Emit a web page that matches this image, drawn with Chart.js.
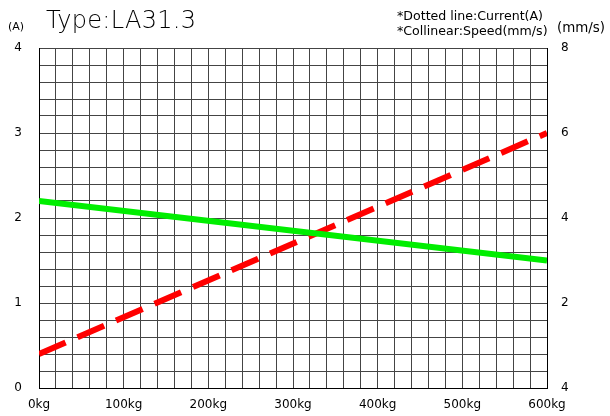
<!DOCTYPE html>
<html>
<head>
<meta charset="utf-8">
<script src="https://cdn.jsdelivr.net/npm/chart.js@4/dist/chart.umd.min.js"></script>
<style>
  html, body { margin: 0; padding: 0; background: #fff; }
  #wrap { position: relative; width: 610px; height: 416px; font-family: 'DejaVu Sans', sans-serif; color: #000; }
  #grafico { position: absolute; left: 0; top: 0; }
  .txt { position: absolute; white-space: nowrap; line-height: 1; }
</style>
</head>
<body>
<div id="wrap">
  <canvas id="grafico" width="610" height="416"></canvas>
  <div class="txt" style="left:46px; top:8px; font-size:24px; font-weight:200; letter-spacing:0.3px;">Type:LA31.3</div>
  <div class="txt" style="left:8px; top:21px; font-size:11px;">(A)</div>
  <div class="txt" style="left:397px; top:10px; font-size:12.6px;">*Dotted line:Current(A)</div>
  <div class="txt" style="left:397px; top:25px; font-size:12.6px;">*Collinear:Speed(mm/s)</div>
  <div class="txt" style="left:557px; top:21px; font-size:13.4px;">(mm/s)</div>
</div>
<script>
// Carga (kg) nos pontos medidos
const cargas = [0, 600];
// Corrente (A) — linha tracejada vermelha, eixo esquerdo
const corrente = [0.4, 3.0];
// Velocidade (mm/s) — linha contínua verde, eixo direito
const velocidade = [4.4, 3.0];
// Rótulos dos eixos, como aparecem no desenho
const rotulosEsquerda = ['0', '1', '2', '3', '4'];
const rotulosDireita = ['4', '2', '4', '6', '8'];

const corGrade = '#444';

new Chart(document.getElementById('grafico'), {
  type: 'line',
  data: {
    datasets: [
      {
        data: cargas.map((c, i) => ({ x: c, y: velocidade[i] })),
        yAxisID: 'y1',
        borderColor: '#00ee00',
        borderWidth: 6,
        pointRadius: 0,
      },
      {
        data: cargas.map((c, i) => ({ x: c, y: corrente[i] })),
        yAxisID: 'y',
        borderColor: '#ff0000',
        borderWidth: 6,
        borderDash: [29, 13],
        borderCapStyle: 'butt',
        pointRadius: 0,
      }
    ]
  },
  options: {
    responsive: false,
    animation: false,
    layout: { padding: { top: 48, left: 0, right: 0, bottom: 0 } },
    plugins: { legend: { display: false }, tooltip: { enabled: false } },
    scales: {
      x: {
        type: 'linear', min: 0, max: 600,
        afterFit: s => { s.height = 28; },
        border: { color: '#000', width: 1 },
        grid: { color: corGrade, lineWidth: 1, drawTicks: false },
        ticks: {
          stepSize: 20, autoSkip: false, maxRotation: 0, padding: 10,
          color: '#000', font: { family: 'DejaVu Sans', size: 12 },
          callback: v => (v % 100 === 0 ? v + 'kg' : '')
        }
      },
      y: {
        position: 'left', min: 0, max: 4,
        afterFit: s => { s.width = 39; },
        border: { color: '#000', width: 1 },
        grid: { color: corGrade, lineWidth: 1, drawTicks: false },
        ticks: {
          stepSize: 0.2, autoSkip: false, padding: 17,
          color: '#000', font: { family: 'DejaVu Sans', size: 12 },
          callback: v => {
            const r = Math.round(v * 10) / 10;
            return Number.isInteger(r) ? rotulosEsquerda[r] : '';
          }
        }
      },
      y1: {
        position: 'right', min: 0, max: 8,
        afterFit: s => { s.width = 63; },
        border: { color: '#000', width: 1 },
        grid: { display: false, drawTicks: false },
        ticks: {
          stepSize: 2, autoSkip: false, padding: 14,
          color: '#000', font: { family: 'DejaVu Sans', size: 12 },
          callback: v => rotulosDireita[Math.round(v / 2)]
        }
      }
    }
  }
});
</script>
</body>
</html>
